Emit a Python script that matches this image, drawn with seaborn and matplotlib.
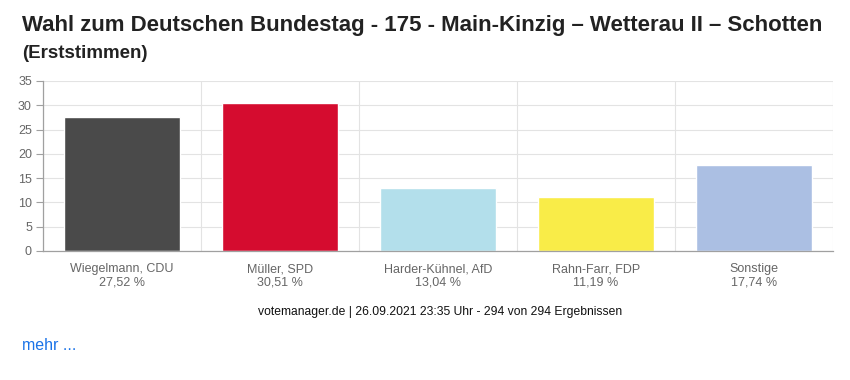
import matplotlib
matplotlib.use("Agg")
import matplotlib.pyplot as plt
import seaborn as sns
import numpy as np
import pandas as pd

# data
candidates = ["Wiegelmann, CDU", "Müller, SPD", "Harder-Kühnel, AfD", "Rahn-Farr, FDP", "Sonstige"]
values = [27.52, 30.51, 13.04, 11.19, 17.74]
value_labels = ["27,52 %", "30,51 %", "13,04 %", "11,19 %", "17,74 %"]
colors = ["#4a4a4a", "#d50c2f", "#b3dfeb", "#f9ec48", "#abbfe3"]

df = pd.DataFrame({"kandidat": candidates, "prozent": values})

sns.set_style("white")
plt.rcParams['font.family'] = ['Liberation Sans', 'DejaVu Sans']

fig = plt.figure(figsize=(8.5, 3.8), dpi=100)
ax = fig.add_axes([0.0506, 0.3395, 0.9294, 0.4475])

sns.barplot(data=df, x="kandidat", y="prozent", hue="kandidat",
            palette=colors, legend=False, width=0.735, saturation=1, ax=ax)

ax.set_ylim(0, 35)
ax.set_xlim(-0.5, len(candidates) - 0.5)
ax.set_yticks(np.arange(0, 36, 5))
ax.set_xticks(range(len(candidates)))
ax.set_xticklabels([c + "\n" + v for c, v in zip(candidates, value_labels)],
                   linespacing=1.15)
ax.set_xticks(np.arange(-0.5, len(candidates), 1), minor=True)
ax.set_xlabel("")
ax.set_ylabel("")

ax.grid(axis="y", color="#e3e3e3", linewidth=0.8)
ax.grid(axis="x", which="minor", color="#e3e3e3", linewidth=0.8)
ax.set_axisbelow(True)

for s in ["top", "right"]:
    ax.spines[s].set_visible(False)
for s in ["left", "bottom"]:
    ax.spines[s].set_color("#a0a0a0")
    ax.spines[s].set_linewidth(0.9)

ax.tick_params(axis="x", which="major", length=0, pad=9, labelsize=9, labelcolor="#666666")
ax.tick_params(axis="x", which="minor", length=8, color="#e3e3e3", width=0.8)
ax.tick_params(axis="y", length=5, color="#a0a0a0", width=0.8, pad=3,
               labelsize=9, labelcolor="#666666", left=True)

fig.text(22 / 850, 1 - 25 / 380, "Wahl zum Deutschen Bundestag - 175 - Main-Kinzig \u2013 Wetterau II \u2013 Schotten",
         fontsize=16, color="#222222", va="center", ha="left", fontweight="bold")
fig.text(22 / 850, 1 - 53 / 380, "(Erststimmen)", fontsize=13.5, color="#222222",
         va="center", ha="left", fontweight="bold")
fig.text(0.5 * (43 + 833) / 850 + 0.003, 1 - 312 / 380,
         "votemanager.de | 26.09.2021 23:35 Uhr - 294 von 294 Ergebnissen",
         fontsize=8.7, color="#111111", va="center", ha="center")
fig.text(22 / 850, 1 - 345 / 380, "mehr ...", fontsize=11.5, color="#1a73e8",
         va="center", ha="left")

fig.savefig("out.png", dpi=100)
